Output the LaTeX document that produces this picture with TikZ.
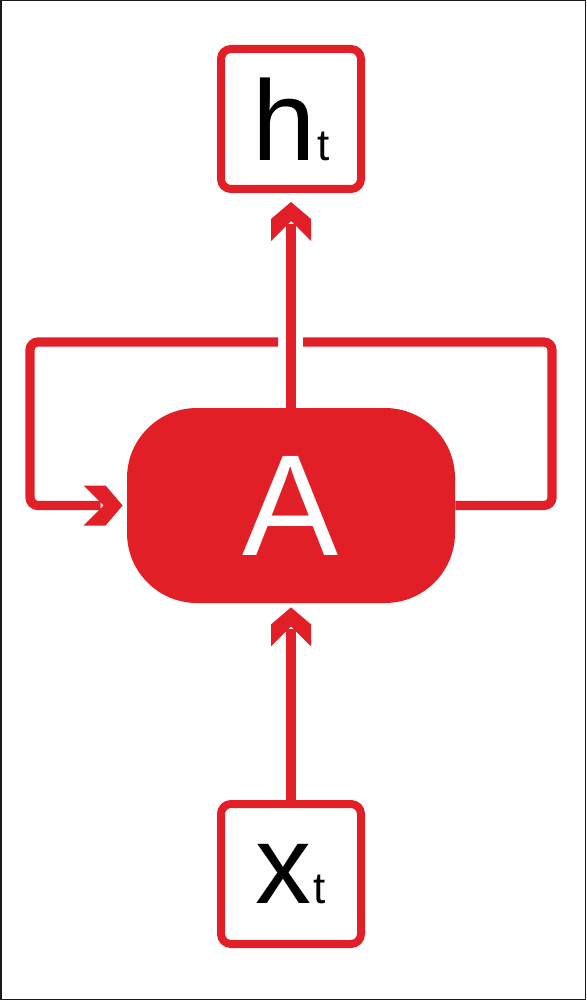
\documentclass[tikz,border=0pt]{standalone}
\usepackage{fontspec}
\setmainfont{Liberation Sans}
\usepackage{xcolor}
\usepackage{tikz}
\usetikzlibrary{arrows.meta,positioning}
\definecolor{red}{HTML}{E21F26}
\definecolor{frame}{HTML}{1A1A1A}

% thick chevron head, as in the sketch
\pgfdeclarearrow{
  name = Chevron,
  setup code = {
    \pgfarrowssettipend{0pt}
    \pgfarrowssetbackend{-19.5pt}
    \pgfarrowssetlineend{-11pt}
  },
  drawing code = {
    \pgfpathmoveto{\pgfqpoint{0pt}{0pt}}
    \pgfpathlineto{\pgfqpoint{-8.5pt}{10pt}}
    \pgfpathlineto{\pgfqpoint{-19.5pt}{10pt}}
    \pgfpathlineto{\pgfqpoint{-9.5pt}{0pt}}
    \pgfpathlineto{\pgfqpoint{-19.5pt}{-10pt}}
    \pgfpathlineto{\pgfqpoint{-8.5pt}{-10pt}}
    \pgfpathclose
    \pgfusepathqfill
  }
}

\tikzset{
  iobox/.style={draw=red,line width=4pt,rounded corners=5pt,fill=white,
    minimum width=70pt,minimum height=70pt,inner sep=0pt},
  cellbox/.style={fill=red,rounded corners=35pt,text=white,
    minimum width=164pt,minimum height=97.5pt,inner sep=0pt},
  wire/.style={red,line width=4.6pt},
}

\begin{document}
\begin{tikzpicture}[x=0.5pt,y=-0.5pt,>=Chevron]
  \useasboundingbox (0,0) rectangle (586,1000);
  \draw[frame,line width=0.75pt] (0.75,0.75) rectangle (585.25,999.25);
  % cell and in/out boxes
  \node[cellbox] (cell) at (291,505.5)
    {\fontsize{72}{72}\selectfont A};
  \node[iobox] (ht) at (291,119)
    {\fontsize{57}{57}\selectfont h\kern1pt\fontsize{22}{22}\selectfont t};
  \node[iobox] (xt) at (291,874)
    {\fontsize{56}{56}\selectfont x\kern1pt\fontsize{22}{22}\selectfont t};
  % loop ends
  \coordinate (ltop) at (30,342);
  \coordinate (rtop) at (552,342);
  \coordinate (lgap) at (278,342);
  \coordinate (rgap) at (303,342);
  \draw[wire,->,shorten >=2pt] (xt.north) -- (cell.south);
  \draw[wire,->,shorten >=4.5pt] (cell.north) -- (ht.south);
  \draw[wire,->,rounded corners=4pt,shorten >=2pt]
    (lgap) -- (ltop) |- (cell.west);
  \draw[wire,rounded corners=4pt] (cell.east) -| (rtop) -- (rgap);
\end{tikzpicture}
\end{document}
